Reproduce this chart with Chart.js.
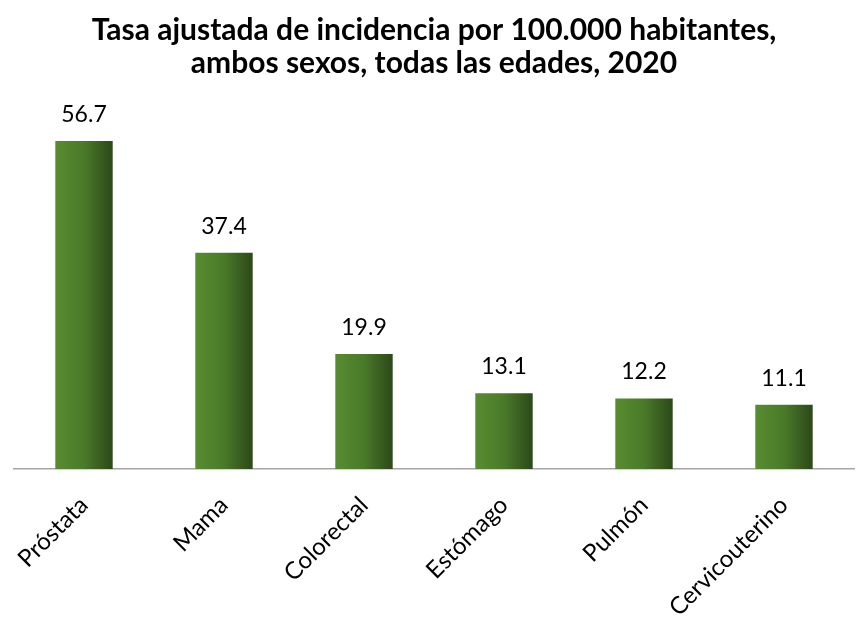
<!DOCTYPE html>
<html>
<head>
<meta charset="utf-8">
<script src="https://cdn.jsdelivr.net/npm/chart.js@4.4.1/dist/chart.umd.min.js"></script>
<style>
  html, body { margin: 0; padding: 0; background: #fff; }
  #wrap { width: 858px; height: 620px; }
</style>
</head>
<body>
<div id="wrap"><canvas id="chart" width="858" height="620"></canvas></div>
<script>
// data
const categories = ['Próstata', 'Mama', 'Colorectal', 'Estómago', 'Pulmón', 'Cervicouterino'];
const rates = [56.7, 37.4, 19.9, 13.1, 12.2, 11.1];
const titleLines = ['Tasa ajustada de incidencia por 100.000 habitantes,', 'ambos sexos, todas las edades, 2020'];

const FONT = 'Lato, "Open Sans", sans-serif';

// horizontal light-to-dark green shade on every bar
const barShade = {
    id: 'barShade',
    beforeDatasetsDraw(chart) {
        const ctx = chart.ctx;
        chart.getDatasetMeta(0).data.forEach(bar => {
            const half = bar.width / 2;
            const g = ctx.createLinearGradient(bar.x - half, 0, bar.x + half, 0);
            g.addColorStop(0, '#588c31');
            g.addColorStop(0.5, '#4a7a29');
            g.addColorStop(1, '#2c4819');
            bar.options = Object.assign({}, bar.options, { backgroundColor: g });
        });
    }
};

// value labels above the bars
const valueLabels = {
    id: 'valueLabels',
    afterDatasetsDraw(chart) {
        const ctx = chart.ctx;
        ctx.save();
        ctx.font = '23px ' + FONT;
        ctx.fillStyle = '#000';
        ctx.textAlign = 'center';
        ctx.textBaseline = 'alphabetic';
        chart.getDatasetMeta(0).data.forEach((bar, i) => {
            ctx.fillText(rates[i].toFixed(1), bar.x, bar.y - 19);
        });
        ctx.restore();
    }
};

new Chart(document.getElementById('chart'), {
    type: 'bar',
    data: {
        labels: categories,
        datasets: [{
            data: rates,
            backgroundColor: '#4a7a29',
            borderWidth: 0,
            barPercentage: 1,
            categoryPercentage: 0.41
        }]
    },
    options: {
        responsive: false,
        animation: false,
        layout: { padding: { left: 14, right: 4, top: 0, bottom: 0 } },
        plugins: {
            legend: { display: false },
            tooltip: { enabled: false },
            title: {
                display: true,
                text: titleLines,
                color: '#000',
                font: { family: FONT, size: 30, weight: 'bold', lineHeight: 1.1 },
                padding: { top: 14, bottom: 42 }
            }
        },
        scales: {
            x: {
                grid: { display: false, drawTicks: false },
                border: { display: true, color: '#a6a6a6', width: 1.5 },
                ticks: {
                    color: '#000',
                    font: { family: FONT, size: 24 },
                    minRotation: 45,
                    maxRotation: 45,
                    padding: 22
                },
                afterFit(scale) {
                    scale.height = 151;
                    scale.paddingLeft = 0;
                    scale.paddingRight = 0;
                }
            },
            y: {
                display: false,
                min: 0,
                max: 60
            }
        }
    },
    plugins: [barShade, valueLabels]
});
</script>
</body>
</html>
